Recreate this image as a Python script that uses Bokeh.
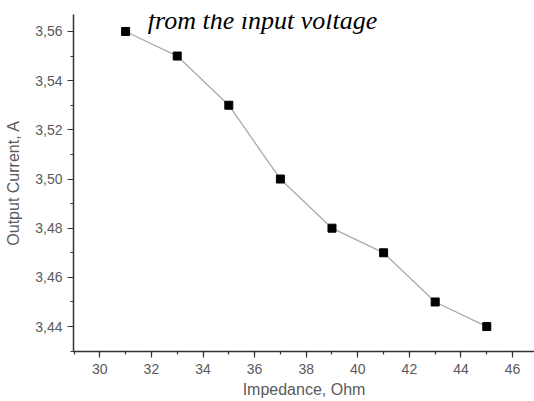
from bokeh.plotting import figure
from bokeh.models import Range1d, SingleIntervalTicker, CustomJSTickFormatter, Label
from bokeh.embed import file_html
from bokeh.resources import INLINE

impedance = [31, 33, 35, 37, 39, 41, 43, 45]
current = [3.56, 3.55, 3.53, 3.50, 3.48, 3.47, 3.45, 3.44]
title_text = "from the input voltage"
x_label = "Impedance, Ohm"
y_label = "Output Current, A"

p = figure(width=534, height=401, output_backend="svg", toolbar_location=None,
           x_range=Range1d(28.98, 46.85), y_range=Range1d(3.42986, 3.5669),
           min_border_left=73, min_border_right=0, min_border_top=14, min_border_bottom=50)
p.outline_line_color = None
p.xgrid.visible = False
p.ygrid.visible = False
p.background_fill_color = "white"
p.border_fill_color = "white"

p.line(impedance, current, line_color="#aaaaaa", line_width=1.3)
p.scatter(impedance, current, marker="square", size=8, fill_color="black", line_color="black")

for ax in (p.xaxis[0], p.yaxis[0]):
    ax.axis_line_color = "#333333"
    ax.axis_line_width = 1.5
    ax.major_tick_line_color = "#333333"
    ax.minor_tick_line_color = "#333333"
    ax.major_tick_line_width = 1.2
    ax.minor_tick_line_width = 1.2
    ax.major_tick_out = 6
    ax.major_tick_in = 0
    ax.minor_tick_out = 3
    ax.minor_tick_in = 0
    ax.major_label_text_font = "Liberation Sans"
    ax.major_label_text_font_size = "14px"
    ax.major_label_text_color = "#5a5a5a"
    ax.axis_label_text_font = "Liberation Sans"
    ax.axis_label_text_font_size = "16px"
    ax.axis_label_text_font_style = "normal"
    ax.axis_label_text_color = "#5a5a5a"

p.xaxis[0].ticker = SingleIntervalTicker(interval=2, num_minor_ticks=2)
p.yaxis[0].ticker = SingleIntervalTicker(interval=0.02, num_minor_ticks=2)
p.yaxis[0].formatter = CustomJSTickFormatter(code="return tick.toFixed(2).replace('.', ',');")
p.xaxis[0].axis_label = x_label
p.yaxis[0].axis_label = y_label
p.xaxis[0].major_label_standoff = 6
p.xaxis[0].axis_label_standoff = 4
p.yaxis[0].major_label_standoff = 5
p.yaxis[0].axis_label_standoff = 10

title = Label(x=189, y=331, x_units="screen", y_units="screen", text=title_text,
              text_font="Liberation Serif", text_font_style="italic", text_font_size="26px",
              text_color="black", text_align="center", text_baseline="alphabetic")
p.add_layout(title)

open("out.html", "w").write(file_html(p, INLINE))
